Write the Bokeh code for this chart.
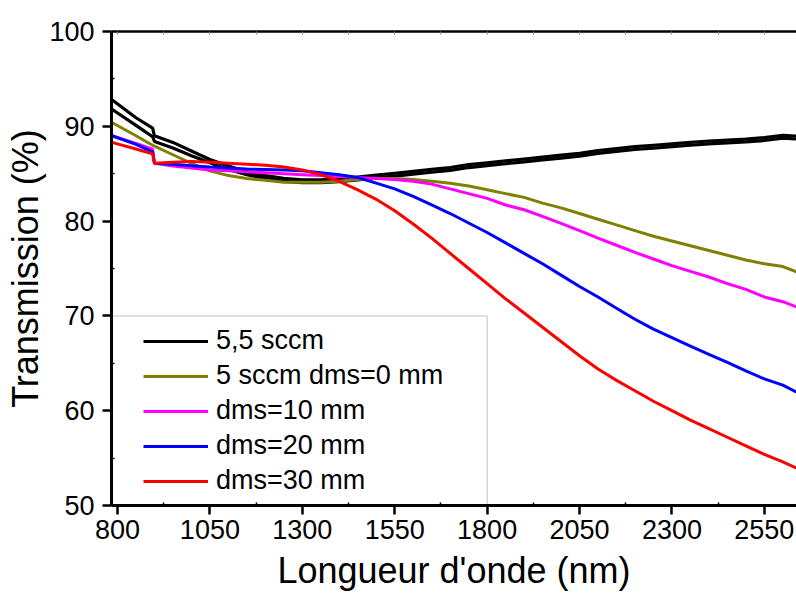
from bokeh.plotting import figure
from bokeh.models import Range1d, FixedTicker, LinearAxis, Legend, LegendItem, BoxAnnotation
from bokeh.embed import file_html
from bokeh.resources import INLINE

# ---------------- data ----------------
wavelength = [785, 850, 895, 900, 950, 1000, 1050, 1100, 1150, 1200, 1250, 1300,
              1350, 1400, 1450, 1500, 1550, 1600, 1650, 1700, 1750, 1800, 1850,
              1900, 1950, 2000, 2050, 2100, 2150, 2200, 2250, 2300, 2350, 2400,
              2450, 2500, 2550, 2600, 2640]

# 5,5 sccm (two overlapping black scans)
t_55_scan1 = [92.8, 90.9, 89.8, 89.0, 88.3, 87.4, 86.5, 85.8, 85.2, 84.8, 84.5, 84.35,
              84.35, 84.45, 84.65, 84.85, 85.05, 85.25, 85.45, 85.65, 85.95, 86.15, 86.35,
              86.55, 86.75, 86.95, 87.15, 87.45, 87.65, 87.85, 88.0, 88.15, 88.3, 88.45,
              88.55, 88.65, 88.8, 89.05, 88.95]
t_55_scan2 = [91.8, 90.1, 88.9, 88.4, 87.7, 86.9, 86.15, 85.45, 84.9, 84.5, 84.2, 84.05,
              84.05, 84.15, 84.35, 84.55, 84.75, 84.95, 85.15, 85.35, 85.65, 85.85, 86.05,
              86.25, 86.45, 86.65, 86.85, 87.15, 87.35, 87.55, 87.7, 87.85, 88.0, 88.15,
              88.25, 88.35, 88.5, 88.75, 88.65]
# 5 sccm dms=0 mm
t_5_dms0 = [90.4, 89.0, 88.0, 87.9, 87.0, 86.1, 85.3, 84.8, 84.5, 84.3, 84.1, 84.1,
            84.1, 84.2, 84.4, 84.5, 84.5, 84.4, 84.2, 84.0, 83.7, 83.3, 82.9,
            82.5, 81.9, 81.4, 80.8, 80.2, 79.6, 79.0, 78.4, 77.9, 77.4, 76.9,
            76.4, 75.9, 75.5, 75.2, 74.6]
# dms=10 mm
t_dms10 = [89.0, 88.2, 87.6, 86.1, 85.8, 85.6, 85.4, 85.3, 85.2, 85.1, 85.0, 84.9,
           84.8, 84.7, 84.6, 84.5, 84.4, 84.2, 83.9, 83.4, 82.9, 82.4, 81.7,
           81.2, 80.5, 79.75, 79.0, 78.2, 77.45, 76.7, 76.0, 75.3, 74.7, 74.1,
           73.4, 72.8, 72.0, 71.5, 70.9]
# dms=20 mm
t_dms20 = [89.0, 88.1, 87.3, 86.1, 86.0, 85.85, 85.7, 85.6, 85.5, 85.45, 85.4, 85.3,
           85.1, 84.9, 84.6, 84.0, 83.4, 82.6, 81.7, 80.8, 79.8, 78.8, 77.7,
           76.6, 75.5, 74.3, 73.1, 72.0, 70.8, 69.65, 68.6, 67.7, 66.8, 65.95,
           65.1, 64.2, 63.35, 62.7, 61.9]
# dms=30 mm
t_dms30 = [88.3, 87.6, 87.1, 86.1, 86.2, 86.3, 86.2, 86.1, 86.0, 85.9, 85.7, 85.4,
           84.9, 84.2, 83.3, 82.3, 81.1, 79.7, 78.2, 76.6, 75.0, 73.4, 71.8,
           70.3, 68.8, 67.3, 65.8, 64.4, 63.2, 62.1, 61.0, 60.0, 59.0, 58.1,
           57.2, 56.3, 55.4, 54.6, 53.9]

series_labels = ["5,5 sccm", "5 sccm dms=0 mm", "dms=10 mm", "dms=20 mm", "dms=30 mm"]
series_colors = ["#000000", "#808000", "#FF00FF", "#0000FF", "#FF0000"]

x_ticks = [800, 1050, 1300, 1550, 1800, 2050, 2300, 2550]
x_minor_ticks = [675, 925, 1175, 1425, 1675, 1925, 2175, 2425, 2675]
y_ticks = [50, 60, 70, 80, 90, 100]
y_minor_ticks = [55, 65, 75, 85, 95]

x_start, x_end = 783.8, 2637
y_start, y_end = 50, 100
legend_box_right, legend_box_top = 1800, 70

FONT = "Liberation Sans"

# ---------------- figure ----------------
p = figure(width=796, height=593, output_backend="svg", toolbar_location=None,
           x_range=Range1d(x_start, x_end), y_range=Range1d(y_start, y_end),
           min_border_left=111, min_border_right=0, min_border_top=31,
           min_border_bottom=88)
p.outline_line_color = None
p.xgrid.visible = False
p.ygrid.visible = False
p.background_fill_color = "white"
p.border_fill_color = "white"

r_black1 = p.line(wavelength, t_55_scan1, line_color=series_colors[0], line_width=3.2)
r_black2 = p.line(wavelength, t_55_scan2, line_color=series_colors[0], line_width=3.2)
r_olive = p.line(wavelength, t_5_dms0, line_color=series_colors[1], line_width=3)
r_mag = p.line(wavelength, t_dms10, line_color=series_colors[2], line_width=3)
r_blue = p.line(wavelength, t_dms20, line_color=series_colors[3], line_width=3)
r_red = p.line(wavelength, t_dms30, line_color=series_colors[4], line_width=3)

# axes
xa = p.xaxis[0]
xa.ticker = FixedTicker(ticks=x_ticks, minor_ticks=x_minor_ticks)
ya = p.yaxis[0]
ya.ticker = FixedTicker(ticks=y_ticks, minor_ticks=y_minor_ticks)
for ax in (xa, ya):
    ax.axis_line_width = 3
    ax.axis_line_color = "black"
    ax.major_tick_line_width = 2.5
    ax.major_tick_line_color = "black"
    ax.major_tick_in = 0
    ax.major_tick_out = 9
    ax.minor_tick_line_width = 1.5
    ax.minor_tick_line_color = "black"
    ax.minor_tick_in = 3
    ax.minor_tick_out = 0
    ax.major_label_text_font = FONT
    ax.major_label_text_font_size = "27px"
    ax.major_label_text_color = "black"
    ax.axis_label_text_font = FONT
    ax.axis_label_text_font_size = "36px"
    ax.axis_label_text_font_style = "normal"
    ax.axis_label_text_color = "black"
xa.axis_label = "Longueur d'onde (nm)"
ya.axis_label = "Transmission (%)"
xa.major_label_standoff = 5
xa.axis_label_standoff = 8
ya.major_label_standoff = 8
ya.axis_label_standoff = 0

top_axis = LinearAxis(ticker=FixedTicker(ticks=x_ticks, minor_ticks=x_minor_ticks))
top_axis.axis_line_width = 2.5
top_axis.major_tick_in = 3
top_axis.major_tick_out = 0
top_axis.minor_tick_in = 3
top_axis.minor_tick_out = 0
top_axis.major_tick_line_width = 1
top_axis.minor_tick_line_width = 1
top_axis.major_tick_line_color = "#888888"
top_axis.minor_tick_line_color = "#888888"
top_axis.major_label_text_font_size = "0px"
top_axis.major_label_text_alpha = 0
p.add_layout(top_axis, "above")

# legend frame
box = BoxAnnotation(left=x_start, right=legend_box_right, bottom=y_start, top=legend_box_top,
                    fill_color=None, fill_alpha=0, line_color="#333333", line_width=1)
p.add_layout(box)

legend = Legend(items=[
    LegendItem(label=series_labels[0], renderers=[r_black1]),
    LegendItem(label=series_labels[1], renderers=[r_olive]),
    LegendItem(label=series_labels[2], renderers=[r_mag]),
    LegendItem(label=series_labels[3], renderers=[r_blue]),
    LegendItem(label=series_labels[4], renderers=[r_red]),
], location=(32, 9))
legend.padding = 0
legend.margin = 0
legend.spacing = 4
legend.label_height = 30
legend.glyph_height = 30
legend.glyph_width = 65
legend.label_standoff = 8
legend.label_text_font = FONT
legend.label_text_font_size = "27px"
legend.label_text_color = "black"
legend.border_line_color = None
legend.background_fill_alpha = 0
p.add_layout(legend)

open("out.html", "w").write(file_html(p, INLINE))
